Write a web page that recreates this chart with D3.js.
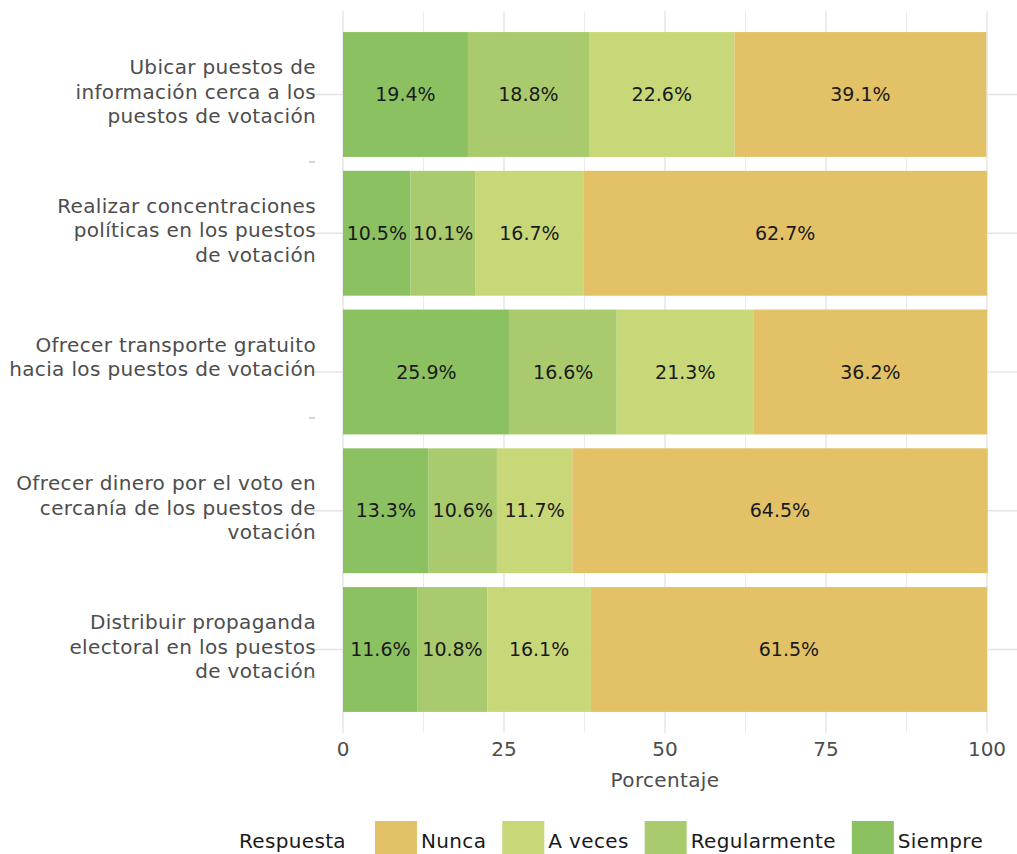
<!DOCTYPE html>
<html>
<head>
<meta charset="utf-8">
<script src="https://cdn.jsdelivr.net/npm/d3@7"></script>
<style>
  body { margin: 0; background: #fff; }
  svg { display: block; font-family: "DejaVu Sans", sans-serif; }
  .wide { letter-spacing: 0.35px; }
</style>
</head>
<body>
<div id="chart"></div>
<script>
// categories, top to bottom (each entry = wrapped lines of the label)
var categories = [
  ["Ubicar puestos de", "información cerca a los", "puestos de votación"],
  ["Realizar concentraciones", "políticas en los puestos", "de votación"],
  ["Ofrecer transporte gratuito", "hacia los puestos de votación", ""],
  ["Ofrecer dinero por el voto en", "cercanía de los puestos de", "votación"],
  ["Distribuir propaganda", "electoral en los puestos", "de votación"]
];
var responses = ["Siempre", "Regularmente", "A veces", "Nunca"];
var legendOrder = ["Nunca", "A veces", "Regularmente", "Siempre"];
var siempre      = [19.4, 10.5, 25.9, 13.3, 11.6];
var regularmente = [18.8, 10.1, 16.6, 10.6, 10.8];
var aVeces       = [22.6, 16.7, 21.3, 11.7, 16.1];
var nunca        = [39.1, 62.7, 36.2, 64.5, 61.5];
var xTicks = [0, 25, 50, 75, 100];
var xMinor = [12.5, 37.5, 62.5, 87.5];

var colors = {
  "Siempre": "#8cc162",
  "Regularmente": "#a9cb6e",
  "A veces": "#c8d878",
  "Nunca": "#e3c167"
};

var w = 1017, h = 854;
var fs = 19, fsAxis = 20;
var svg = d3.select("#chart").append("svg").attr("width", w).attr("height", h);

var x = d3.scaleLinear().domain([0, 100]).range([343, 987]);
var panelL = x(-5), panelR = x(105);
var y = d3.scaleBand().domain(d3.range(categories.length))
  .range([11.25, 732.75]).paddingInner(0.1).paddingOuter(0.15);
var panelT = 11.25, panelB = 732.75;

var grid = svg.append("g");
grid.selectAll("line.major").data(xTicks).enter().append("line")
  .attr("x1", d => x(d)).attr("x2", d => x(d))
  .attr("y1", panelT).attr("y2", panelB)
  .attr("stroke", "#e4e4e4").attr("stroke-width", 1.4);
grid.selectAll("line.minor").data(xMinor).enter().append("line")
  .attr("x1", d => x(d)).attr("x2", d => x(d))
  .attr("y1", panelT).attr("y2", panelB)
  .attr("stroke", "#ebebeb").attr("stroke-width", 1);
grid.selectAll("line.hy").data(d3.range(categories.length)).enter().append("line")
  .attr("x1", panelL).attr("x2", Math.min(panelR, w))
  .attr("y1", d => y(d) + y.bandwidth() / 2).attr("y2", d => y(d) + y.bandwidth() / 2)
  .attr("stroke", "#e4e4e4").attr("stroke-width", 1.4);

// stacked data
var rows = categories.map(function(c, i) {
  return { i: i, "Siempre": siempre[i], "Regularmente": regularmente[i], "A veces": aVeces[i], "Nunca": nunca[i] };
});
var stack = d3.stack().keys(responses)(rows);

var layers = svg.selectAll("g.layer").data(stack).enter().append("g")
  .attr("fill", d => colors[d.key]);
layers.selectAll("rect").data(d => d).enter().append("rect")
  .attr("x", d => x(d[0]))
  .attr("width", d => x(d[1]) - x(d[0]))
  .attr("y", d => y(d.data.i))
  .attr("height", y.bandwidth());

layers.selectAll("text").data(d => d).enter().append("text")
  .attr("x", d => (x(d[0]) + x(d[1])) / 2)
  .attr("y", d => y(d.data.i) + y.bandwidth() / 2)
  .attr("dy", "0.35em")
  .attr("text-anchor", "middle")
  .attr("fill", "#1a1a1a")
  .attr("font-size", fs)
  .text(d => (d[1] - d[0]).toFixed(1) + "%");

// y labels
var ylab = svg.append("g").attr("class", "wide");
categories.forEach(function(lines, i) {
  var cy = y(i) + y.bandwidth() / 2;
  var t = ylab.append("text")
    .attr("text-anchor", "end")
    .attr("fill", "#4d4d4d")
    .attr("font-size", fsAxis);
  lines.forEach(function(l, k) {
    t.append("tspan").attr("x", 316)
      .attr("y", cy + (k - (lines.length - 1) / 2) * 24.5 - 3)
      .attr("dy", "0.35em")
      .text(l);
  });
});

// stray short marks left of the panel
svg.selectAll("line.stray").data([162, 418, 677]).enter().append("line")
  .attr("x1", 309).attr("x2", 315).attr("y1", d => d).attr("y2", d => d)
  .attr("stroke", "#aaaaaa").attr("stroke-width", 1);

// x axis
svg.selectAll("text.xt").data(xTicks).enter().append("text")
  .attr("x", d => x(d)).attr("y", 756)
  .attr("text-anchor", "middle")
  .attr("fill", "#4d4d4d").attr("font-size", fsAxis)
  .text(d => d);
svg.append("text").attr("class", "wide")
  .attr("x", (panelL + panelR) / 2).attr("y", 787)
  .attr("text-anchor", "middle")
  .attr("fill", "#4d4d4d").attr("font-size", fsAxis)
  .text("Porcentaje");

// legend
var lg = svg.append("g").attr("class", "wide");
var keyW = 42, keyH = 34, ly = 821, lBase = 848;
var cursor = 0;
var title = lg.append("text").attr("x", 0).attr("y", lBase)
  .attr("fill", "#1a1a1a").attr("font-size", fsAxis).text("Respuesta");
cursor = title.node().getComputedTextLength() + 29;
legendOrder.forEach(function(k, i) {
  lg.append("rect").attr("x", cursor).attr("y", ly)
    .attr("width", keyW).attr("height", keyH).attr("fill", colors[k]);
  var t = lg.append("text").attr("x", cursor + keyW + 4).attr("y", lBase)
    .attr("fill", "#1a1a1a").attr("font-size", fsAxis).text(k);
  cursor += keyW + 4 + t.node().getComputedTextLength() + (i < legendOrder.length - 1 ? 16 : 0);
});
lg.attr("transform", "translate(" + ((235 + 987) / 2 - cursor / 2) + ",0)");
</script>
</body>
</html>
